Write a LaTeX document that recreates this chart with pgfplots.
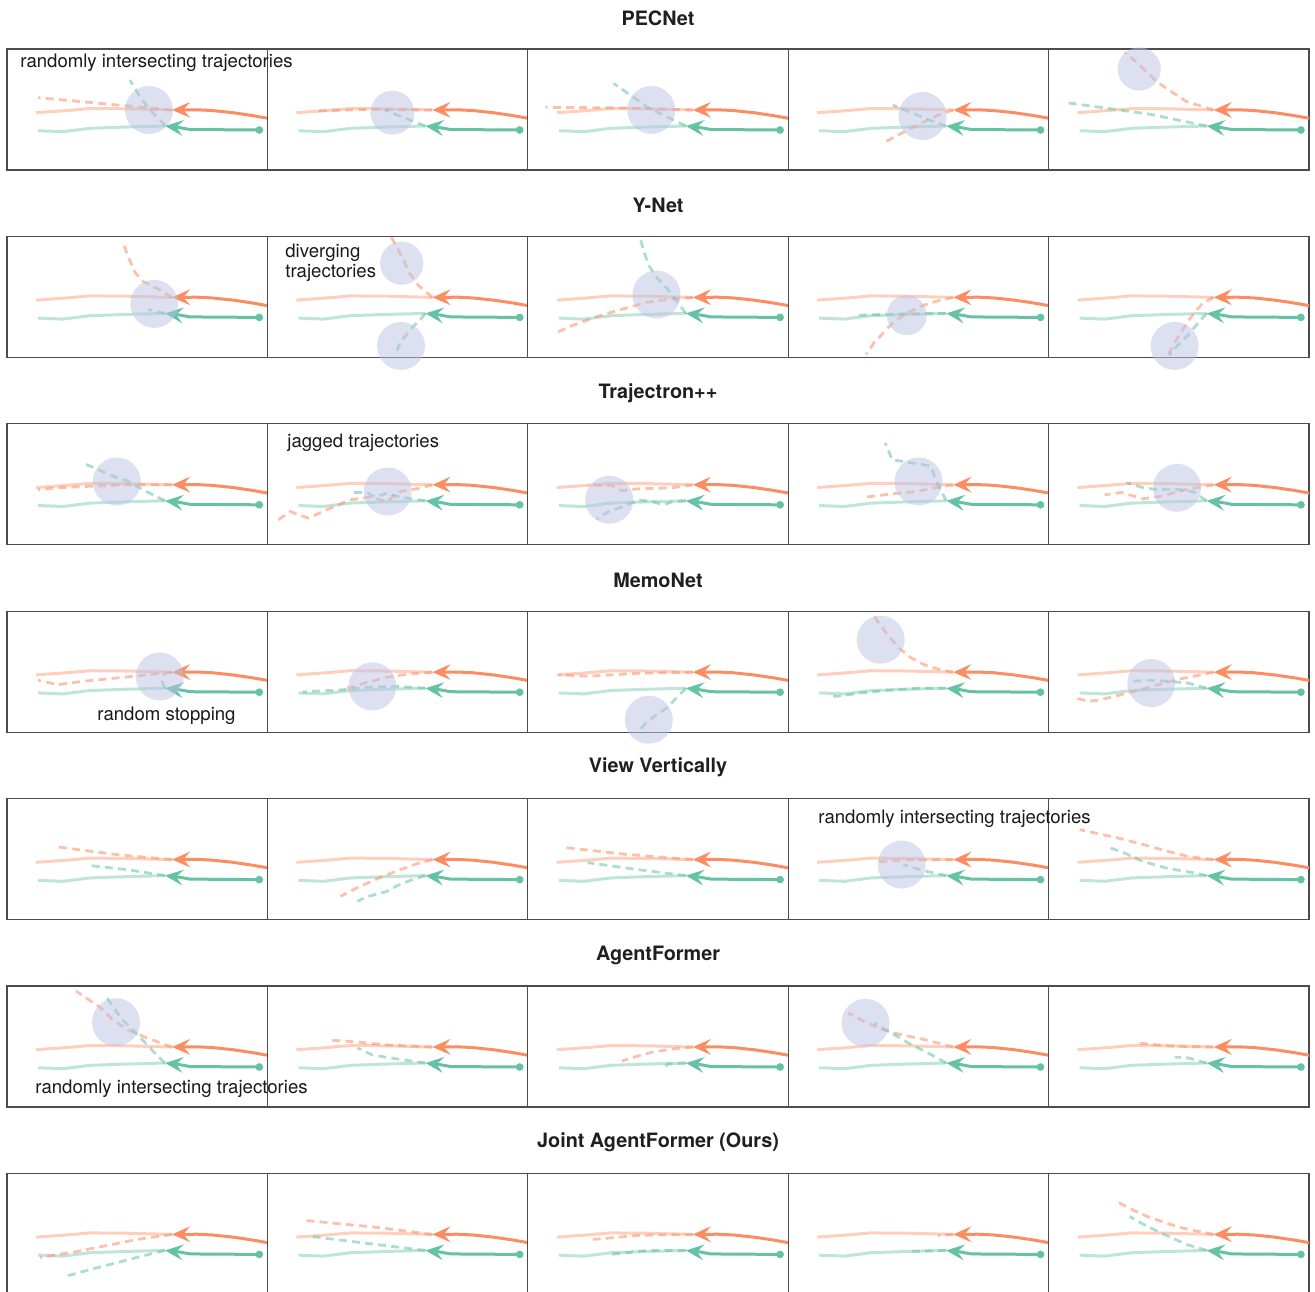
\documentclass[border=0pt]{standalone}
\usepackage{pgfplots}
\pgfplotsset{compat=1.18}
\usetikzlibrary{arrows.meta}
\usepackage{fontspec}
\setmainfont{TeX Gyre Heros}
\definecolor{sorange}{HTML}{FC8D62}
\definecolor{sgreen}{HTML}{66C2A5}
\definecolor{hl}{RGB}{188,194,226}
\pgfplotsset{
  panel/.style={width=130.2pt,height=60.5pt,scale only axis,anchor=north west,
    xmin=0,xmax=260.4,ymin=0,ymax=121,y dir=reverse,ticks=none,
    axis line style={black!70,line width=0.6pt}},
  gtl/.style={line width=1.5pt,opacity=0.42,no markers,forget plot},
  pr/.style={line width=1.4pt,opacity=0.55,dash pattern=on 4pt off 2.6pt,no markers,forget plot},
  hist/.style={line width=1.5pt,no markers,forget plot,-{Stealth[length=9pt,width=7.8pt,inset=3.4pt]}},
  circ/.style={only marks,mark=*,mark size=12pt,mark options={fill=hl,draw opacity=0,fill opacity=0.5},forget plot},
}
% #1 x, #2 y, #3 circles, #4 orange prediction, #5 green prediction
\newcommand{\panel}[5]{%
\begin{axis}[panel,at={(#1,#2)}]
#3
\addplot[gtl,sorange] coordinates {(29,63.7)(60,61.5)(83,59.5)(120,59.8)(165,61)};
\addplot[gtl,sgreen] coordinates {(31,81.7)(56,82.7)(83,79.3)(120,78)(158,77)};
\addplot[pr,sorange] coordinates {#4};
\addplot[pr,sgreen] coordinates {#5};
\addplot[hist,sorange] coordinates {(262,69.5)(245,66.5)(226,63.7)(205,61.5)(190,60.8)(165,61)};
\addplot[hist,sgreen] coordinates {(252.3,81)(183,80.5)(172,78.5)(158,77)};
\addplot[only marks,mark=*,mark size=1.7pt,color=sgreen,forget plot] coordinates {(252.3,81)};
\end{axis}}
\newcommand{\ann}{\fontsize{9.3}{11}\selectfont}
\newcommand{\ttl}{\fontsize{9.9}{12}\selectfont\bfseries}
\begin{document}
\begin{tikzpicture}[x=0.5pt,y=-0.5pt]
\useasboundingbox (0,0) rectangle (1315,1291);
% Row 1 PECNet
\panel{7}{49}{\addplot[circ] coordinates {(142,61)};}
 {(165,61)(100,55)(31,48.7)}{(158,77)(156,74)(143,61)(133,48)(123,31)}
\panel{267.4}{49}{\addplot[circ,mark size=11pt] coordinates {(125,63.7)};}
 {(165,61)(100,60.5)(47,62)}{(158,77)(140,70)(117.6,61)}
\panel{527.8}{49}{\addplot[circ] coordinates {(123.5,61)};}
 {(165,61)(100,59)(17.5,58.3)}{(158,77)(121,59)(85.6,34.3)}
\panel{788.2}{49}{\addplot[circ] coordinates {(134.3,67)};}
 {(165,61)(150,66)(125,78)(95.4,93.7)}{(158,77)(136,69)(104.5,56)}
\panel{1048.6}{49}{\addplot[circ,mark size=10.8pt] coordinates {(90.6,20)};}
 {(165,61)(138,52.7)(108,32.7)(90,15)(76.4,3.3)}{(158,77)(100,65)(20,54)}
% Row 2 Y-Net
\panel{7}{236.4}{\addplot[circ] coordinates {(147.3,67.5)};}
 {(165,61)(153,53.5)(136,45)(128,36)(121,20)(115.7,5)}{(158,77)(141,73)}
\panel{267.4}{236.4}{\addplot[circ,mark size=10.8pt] coordinates {(134.3,26.8)};\addplot[circ] coordinates {(133.6,109.5)};}
 {(165,61)(150,48)(141,35)(136,23.5)(129,10)(122.6,-1.5)}{(158,77)(152.6,83.5)(142.6,93.5)(133,106)(127.6,118.5)}
\panel{527.8}{236.4}{\addplot[circ] coordinates {(128.7,58.2)};}
 {(165,61)(140,63)(118.6,66)(90,74)(68,80.5)(45,89)(30,95.5)}{(158,77)(150,66)(139,52)(128,40)(121,29)(116,15)(112,0)}
\panel{788.2}{236.4}{\addplot[circ,mark size=10pt] coordinates {(118.6,78.8)};}
 {(165,61)(151,64)(135,69)(121,75.5)(106,85)(96,95.5)(86,106)(78,118)}{(158,77)(110,77.5)(65.5,79)}
\panel{1048.6}{236.4}{\addplot[circ] coordinates {(126,109.5)};}
 {(165,61)(154,67)(146,76)(139,85.5)(128,103)(118.5,120.5)}{(158,77)(150,86)(139,99)(128,110)(121,119)}
% Row 3 Trajectron++
\panel{7}{423.8}{\addplot[circ] coordinates {(109.8,57.7)};}
 {(165,61)(120,61)(77,62.7)(50,64)(31,66)}{(158,77)(140,68)(120,57)(102,51)(90,45)(75,39)}
\panel{267.4}{423.8}{\addplot[circ] coordinates {(120.3,67.7)};}
 {(165,61)(152.6,64.3)(132.6,67.7)(119.3,77.7)(102.6,73.3)(82.6,76)(59.3,86)(41,94.3)(22.6,87.7)(11,96)}
 {(158,77)(146,75.3)(132.6,73.3)(119.3,69.3)(107.6,73.3)(99.3,68.7)(82.6,68.7)}
\panel{527.8}{423.8}{\addplot[circ] coordinates {(81.4,76)};}
 {(165,61)(144,64)(110,65)(94,66.7)(85,62)(60,61)}{(158,77)(144,78)(136,81)(125,78)(111,76)(94,83.3)(80,88)(69,95.3)}
\panel{788.2}{423.8}{\addplot[circ] coordinates {(130.3,57.7)};}
 {(165,61)(150,63.5)(128,67.7)(102,70.3)(77,73.3)}{(158,77)(150,61)(142,42)(117,38)(104,36)(97,19)}
\panel{1048.6}{423.8}{\addplot[circ] coordinates {(128.4,64)};}
 {(165,61)(136,66)(111,72.7)(94,75)(73,68.7)(56,71)}{(158,77)(145,68)(125,65)(111,66)(95,64)(78,59)}
% Row 4 MemoNet
\panel{7}{611.2}{\addplot[circ] coordinates {(152.7,65.2)};}
 {(165,61)(127,65)(77,70)(50,73.5)(40,71)(31,69)}{(158,77)(155,70)(157,63)}
\panel{267.4}{611.2}{\addplot[circ] coordinates {(105,75.2)};}
 {(165,61)(140,63)(120,66)(100,71)(80,77)}{(158,77)(128,75)(100,76)(70,79)(45,80)(35,81)}
\panel{527.8}{611.2}{\addplot[circ] coordinates {(121,108.5)};}
 {(165,61)(111,62)(60,65)(31,63.5)}{(158,77)(150,85)(140,96)(128,104)(118,112)(111,120)}
\panel{788.2}{611.2}{\addplot[circ] coordinates {(92.5,28.5)};}
 {(165,61)(150,58)(136,53.5)(122,46)(111,37)(98,22)(86,5)}{(158,77)(130,77)(100,79)(70,82)(50,85)(40,85)}
\panel{1048.6}{611.2}{\addplot[circ] coordinates {(102.7,71.8)};}
 {(165,61)(128,68.5)(86,80)(50,89)(40,90)(27,87)}{(158,77)(140,72)(120,70)(100,69)(82,70)}
% Row 5 View Vertically
\panel{7}{798.6}{}
 {(165,61)(110,56)(52,48.5)}{(158,77)(120,71)(81,66.7)}
\panel{267.4}{798.6}{}
 {(165,61)(150,65)(130,72)(110,80)(90,89)(73,97.7)}{(158,77)(145,81)(130,87)(119,93)(100,98)(90,102.7)}
\panel{527.8}{798.6}{}
 {(165,61)(94,55.3)(35,48.7)}{(158,77)(110,71)(60,64)}
\panel{788.2}{798.6}{\addplot[circ] coordinates {(113.5,66)};}
 {(165,61)(120,61.5)(90,63)}{(158,77)(135,72)(115,66)}
\panel{1048.6}{798.6}{}
 {(165,61)(140,58)(119,52.7)(95,46)(69,39.3)(31,31)}{(158,77)(144,74)(120,70)(94,62.7)(75,54)(60,48.7)}
% Row 6 AgentFormer
\panel{7}{986}{\addplot[circ] coordinates {(109,36.2)};}
 {(165,61)(140,52)(120,43.5)(105,33)(94,22)(69,5)}{(158,77)(145,64)(132,50)(115,33.5)(100,12)}
\panel{267.4}{986}{}
 {(165,61)(120,59)(90,56)(62,54)}{(158,77)(130,73)(105,69)(90,62)}
\panel{527.8}{986}{}
 {(165,61)(145,63)(125,66)(110,70)(94,75)}{(158,77)(140,78)(135,84)}
\panel{788.2}{986}{\addplot[circ] coordinates {(77.3,36.8)};}
 {(165,61)(136,53.5)(110,48)(94,43.5)(75,35)(60,27)}{(158,77)(140,67)(120,57)(100,45)(86,37)}
\panel{1048.6}{986}{}
 {(165,61)(120,60)(90,57)}{(158,77)(140,72)(126,71)}
% Row 7 Joint AgentFormer
\panel{7}{1173.4}{}
 {(165,61)(130,66)(100,72)(70,78)(33,84)}{(158,77)(130,84)(103,91)(80,97)(58,103)}
\panel{267.4}{1173.4}{}
 {(165,61)(110,54)(37.6,47)}{(158,77)(100,70)(43,63)}
\panel{527.8}{1173.4}{}
 {(165,61)(110,62)(65,66)}{(158,77)(120,77)(82,81)}
\panel{788.2}{1173.4}{}
 {(165,61)(150,62)}{(158,77)(120,78)}
\panel{1048.6}{1173.4}{}
 {(165,61)(131,54)(101,44)(85,37)(68,28)}{(158,77)(138,71)(111,59)(95,51)(81,43)}
% Titles
\foreach \t [count=\i from 0] in {PECNet,Y-Net,Trajectron++,MemoNet,View Vertically,AgentFormer,Joint AgentFormer (Ours)}
  \node[font=\ttl,text=black!88] at (658,{18+187.4*\i}) {\t};
% Annotations
\node[font=\ann,anchor=west,inner sep=0pt,text=black!90] at (20,63) {randomly intersecting trajectories};
\node[font=\ann,anchor=west,inner sep=0pt,text=black!90] at (285,252.7) {diverging};
\node[font=\ann,anchor=west,inner sep=0pt,text=black!90] at (285,273.3) {trajectories};
\node[font=\ann,anchor=west,inner sep=0pt,text=black!90] at (287,442.7) {jagged trajectories};
\node[font=\ann,anchor=west,inner sep=0pt,text=black!90] at (97,716) {random stopping};
\node[font=\ann,anchor=west,inner sep=0pt,text=black!90] at (818,819) {randomly intersecting trajectories};
\node[font=\ann,anchor=west,inner sep=0pt,text=black!90] at (35,1089) {randomly intersecting trajectories};
\end{tikzpicture}
\end{document}
